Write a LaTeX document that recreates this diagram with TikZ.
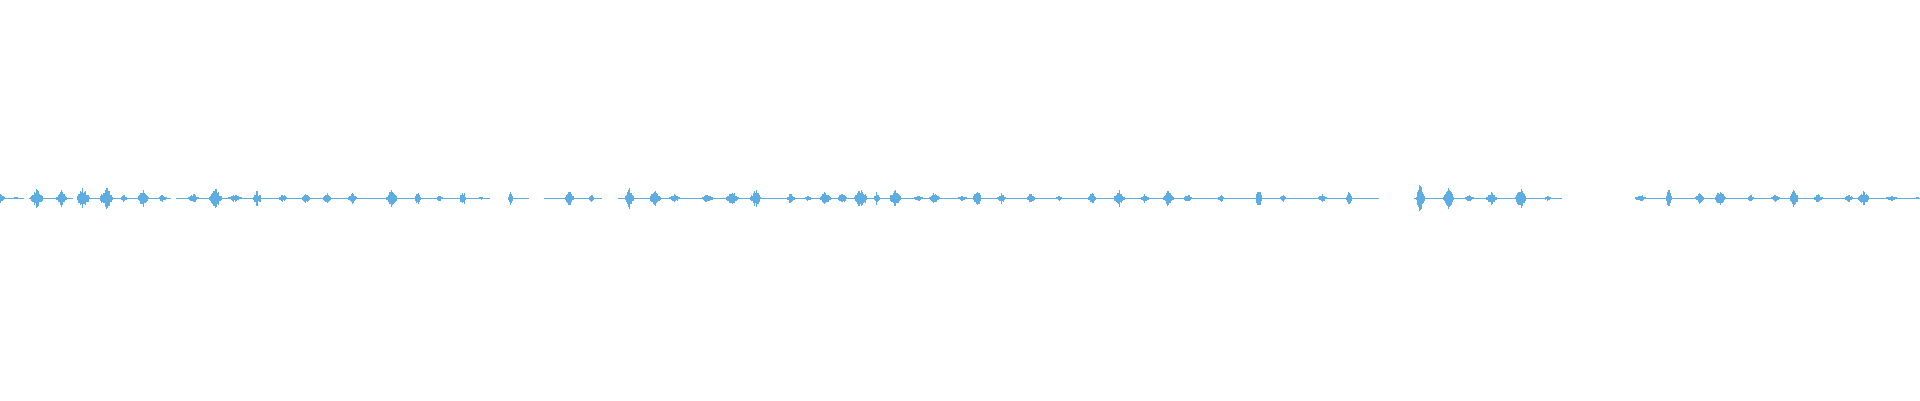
\documentclass[tikz,border=0pt]{standalone}
\definecolor{wave}{HTML}{5DADE2}
\begin{document}
\begin{tikzpicture}[x=1.2245pt,y=1.2245pt,bar/.style={wave,line width=1.1pt},base/.style={wave,line width=0.8pt}]
\useasboundingbox[fill=white] (0,0) rectangle (1568,326.7);
\pgfmathsetseed{7}
\def\cy{164.7}
\foreach \s/\e in {0/20,24/60,64/140,144/400,416/432,444/492,505/1126,1155/1276,1335/1568}{
  \draw[base] (\s,\cy) -- (\e,\cy);}
\foreach \c/\w/\a in {0/8/4,13/3/1,30/10/7,50/8/6,68/10/8,87/10/9,101/4/4,117/8/7,133/6/3,158/8/4,176/10/8,192/10/3,210/6/6,231/6/3,250/6/4,267/6/5,288/6/4,320/8/7,341/4/5,359/4/2,378/4/6,393/2/1,417/3/5,465/6/6,483/3/3,514/6/8,535/8/6,551/8/3,578/8/4,598/10/6,617/8/7,646/6/4,660/4/2,674/8/5,688/6/5,703/10/8,716/4/5,731/8/8,750/6/3,763/8/4,786/6/2,798/6/6,818/6/4,842/6/4,865/4/2,892/6/4,914/8/6,935/6/4,954/8/6,970/6/3,997/4/3,1028/4/7,1048/4/3,1080/6/3,1102/4/6,1160/6/11,1183/8/9,1200/6/3,1218/8/5,1242/8/8,1264/4/2,1340/8/3,1363/4/8,1388/6/4,1405/8/6,1430/4/3,1450/6/3,1465/6/7,1485/6/4,1510/6/3,1522/8/6,1545/8/2,1566/2/1}{
  \pgfmathtruncatemacro\n{2*\w}
  \foreach \i in {0,...,\n}{
    \pgfmathsetmacro\h{max(0.8,1.15*\a*(0.45+0.55*rnd)*(1-abs(\i/2-\w/2)/(\w/2+1)))}
    \draw[bar] (\c-\w/2+\i/2,\cy-\h) -- (\c-\w/2+\i/2,\cy+\h);
  }}
\end{tikzpicture}
\end{document}
